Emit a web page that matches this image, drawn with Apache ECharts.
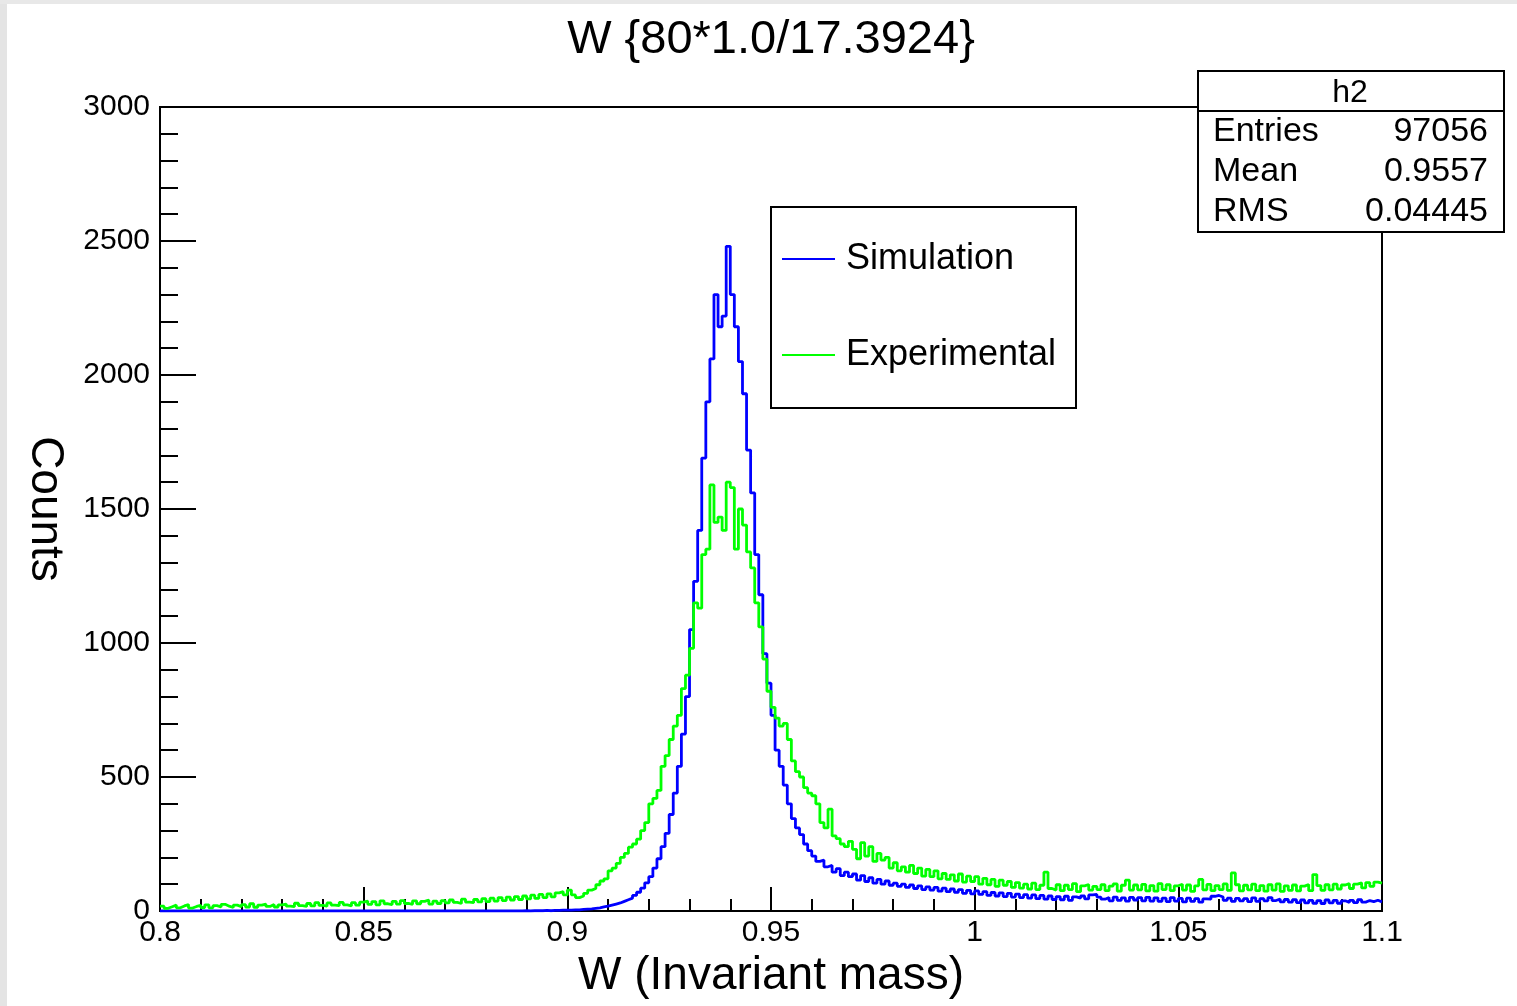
<!DOCTYPE html>
<html>
<head>
<meta charset="utf-8">
<title>W invariant mass</title>
<script src="https://cdn.jsdelivr.net/npm/echarts@6/dist/echarts.min.js"></script>
<style>
    html, body { margin: 0; padding: 0; background: #fff; }
    #main { width: 1517px; height: 1006px; }
</style>
</head>
<body>
<div id="main"></div>
<script>
// histogram bins: 0.8 -> 1.1, width 0.001
var binStart = 0.8;
var binWidth = 0.001;
var xTicks = ['0.8', '0.85', '0.9', '0.95', '1', '1.05', '1.1'];
var seriesNames = ['Simulation', 'Experimental'];

var simulation = [
    0, 0, 0, 0, 0, 0, 0, 0, 0, 0,
    0, 0, 0, 0, 0, 0, 0, 0, 0, 0,
    0, 0, 0, 0, 0, 0, 0, 0, 0, 0,
    0, 0, 0, 0, 0, 0, 0, 0, 0, 0,
    0, 0, 0, 0, 0, 0, 0, 0, 0, 0,
    0, 0, 0, 0, 0, 0, 0, 0, 0, 0,
    0, 0, 0, 0, 0, 0, 0, 0, 0, 0,
    0, 0, 0, 0, 0, 0, 0, 0, 0, 0,
    0, 0, 0, 0, 0, 0, 0, 0, 0, 1,
    0, 1, 1, 1, 2, 1, 2, 2, 3, 3,
    3, 4, 4, 6, 7, 8, 10, 12, 15, 18,
    22, 26, 30, 36, 42, 48, 58, 70, 85, 105,
    128, 160, 195, 240, 290, 360, 440, 540, 660, 800,
    1050, 1230, 1420, 1690, 1900, 2060, 2300, 2180, 2220, 2480,
    2300, 2180, 2050, 1930, 1720, 1560, 1330, 1180, 960, 850,
    730, 600, 540, 470, 400, 345, 310, 285, 250, 225,
    205, 185, 190, 165, 170, 145, 158, 132, 145, 128,
    138, 115, 132, 110, 124, 104, 118, 100, 112, 96,
    104, 92, 100, 88, 97, 84, 94, 80, 90, 78,
    88, 74, 85, 72, 82, 70, 80, 66, 77, 64,
    75, 62, 72, 58, 69, 56, 68, 54, 66, 52,
    63, 50, 61, 48, 60, 46, 58, 44, 56, 43,
    54, 42, 55, 40, 53, 48, 56, 45, 60, 62,
    52, 44, 50, 38, 52, 40, 49, 37, 51, 41,
    50, 38, 51, 37, 49, 36, 48, 35, 50, 37,
    47, 34, 48, 36, 46, 33, 45, 44, 55, 58,
    52, 40, 48, 36, 47, 38, 46, 35, 49, 36,
    46, 38, 50, 39, 45, 34, 43, 33, 42, 31,
    41, 30, 40, 29, 39, 28, 41, 30, 40, 29,
    38, 32, 40, 31, 42, 33, 39, 35, 40, 34
];

var experimental = [
    18, 10, 16, 22, 12, 19, 24, 11, 17, 21,
    13, 23, 12, 20, 15, 25, 18, 13, 22, 16,
    24, 15, 27, 14, 22, 26, 17, 24, 15, 23,
    26, 18, 16, 29, 20, 17, 28, 19, 31, 21,
    18, 30, 22, 20, 32, 23, 19, 31, 22, 33,
    37, 25, 35, 23, 38, 27, 24, 36, 26, 39,
    28, 25, 38, 27, 36, 41, 26, 37, 28, 39,
    30, 41, 32, 28, 44, 33, 31, 43, 34, 46,
    35, 48, 37, 50, 39, 52, 41, 54, 43, 56,
    45, 59, 47, 62, 50, 64, 53, 68, 72, 60,
    78, 60, 50, 56, 66, 78, 84, 98, 112, 120,
    150, 160, 178, 200, 215, 238, 250, 268, 300, 330,
    400, 420, 450, 540, 580, 640, 690, 730, 830, 880,
    980, 1150, 1130, 1330, 1350, 1590, 1450, 1470, 1420, 1600,
    1580, 1350, 1500, 1440, 1340, 1280, 1150, 1060, 940, 820,
    760, 720, 690, 700, 640, 560, 520, 500, 460, 440,
    430, 400, 330, 310, 380, 280, 270, 250, 240, 260,
    230, 195, 255, 205, 240, 185, 215, 190, 200, 160,
    180, 150, 165, 145, 170, 140, 160, 130, 155, 128,
    150, 120, 140, 118, 135, 112, 138, 108, 130, 110,
    128, 100, 122, 98, 118, 92, 115, 96, 110, 88,
    106, 85, 100, 82, 104, 80, 96, 145, 84, 78,
    98, 76, 96, 80, 102, 72, 94, 99, 78, 92,
    80, 98, 76, 93, 101, 74, 96, 115, 78, 97,
    79, 99, 75, 95, 74, 102, 80, 98, 76, 94,
    100, 78, 97, 73, 94, 118, 79, 99, 76, 95,
    80, 101, 77, 142, 98, 75, 96, 79, 100, 76,
    95, 74, 98, 78, 101, 73, 94, 77, 97, 75,
    93, 99, 76, 136, 95, 77, 98, 79, 100, 82,
    97, 102, 84, 100, 105, 86, 106, 92, 108, 104
];

var statsRows = [['Entries', '97056'], ['Mean', '0.9557'], ['RMS', '0.04445']];

var FONT = '"Liberation Sans", Arial, Helvetica, sans-serif';

// bin left edges -> step points, closing point at the upper edge
function toSteps(vals) {
    var pts = vals.map(function (v, i) {
        return [+(binStart + i * binWidth).toFixed(4), v];
    });
    pts.push([+(binStart + vals.length * binWidth).toFixed(4), vals[vals.length - 1]]);
    return pts;
}

var chart = echarts.init(document.getElementById('main'), null, { renderer: 'canvas' });

var statsGraphic = [
    { type: 'rect', shape: { x: 1198, y: 71, width: 306, height: 161 }, style: { fill: '#fff', stroke: '#000', lineWidth: 2 } },
    { type: 'line', shape: { x1: 1198, y1: 111, x2: 1504, y2: 111 }, style: { stroke: '#000', lineWidth: 2 } },
    { type: 'text', x: 1350, y: 93, style: { text: 'h2', font: '32px ' + FONT, fill: '#000', align: 'center', verticalAlign: 'middle' } }
];
statsRows.forEach(function (row, i) {
    var y = 132 + i * 40;
    statsGraphic.push({ type: 'text', x: 1213, y: y, style: { text: row[0], font: '34px ' + FONT, fill: '#000', align: 'left', verticalAlign: 'middle' } });
    statsGraphic.push({ type: 'text', x: 1488, y: y, style: { text: row[1], font: '34px ' + FONT, fill: '#000', align: 'right', verticalAlign: 'middle' } });
});

var legendGraphic = [
    { type: 'rect', shape: { x: 771, y: 207, width: 305, height: 201 }, style: { fill: '#fff', stroke: '#000', lineWidth: 2 } }
];
[['#0000ff', 259], ['#00ff00', 355]].forEach(function (it, i) {
    legendGraphic.push({ type: 'line', shape: { x1: 782, y1: it[1], x2: 835, y2: it[1] }, style: { stroke: it[0], lineWidth: 2 } });
    legendGraphic.push({ type: 'text', x: 846, y: it[1], style: { text: seriesNames[i], font: '36px ' + FONT, fill: '#000', align: 'left', verticalAlign: 'middle' } });
});

var option = {
    backgroundColor: '#fff',
    animation: false,
    textStyle: { fontFamily: FONT },
    grid: {
        left: 160, right: 135, top: 107, bottom: 95,
        show: true, borderColor: '#000', borderWidth: 2, backgroundColor: 'transparent'
    },
    xAxis: {
        type: 'value',
        min: 0.8, max: 1.1, interval: 0.05,
        name: 'W (Invariant mass)',
        nameLocation: 'middle',
        nameGap: 38,
        nameTextStyle: { fontSize: 46, color: '#000', fontFamily: FONT },
        axisLine: { show: true, onZero: false, lineStyle: { color: '#000', width: 2 } },
        axisTick: { show: true, inside: true, length: 24, lineStyle: { color: '#000', width: 2 } },
        minorTick: { show: true, splitNumber: 5, length: 12, lineStyle: { color: '#000', width: 2 } },
        splitLine: { show: false },
        axisLabel: {
            fontSize: 30, color: '#000', margin: 7, showMinLabel: true, showMaxLabel: true,
            formatter: function (v) {
                var k = Math.round((v - 0.8) / 0.05);
                return xTicks[k] !== undefined ? xTicks[k] : '';
            }
        }
    },
    yAxis: {
        type: 'value',
        min: 0, max: 3000, interval: 500,
        name: 'Counts',
        nameLocation: 'middle',
        nameRotate: -90,
        nameGap: 92,
        nameTextStyle: { fontSize: 46, color: '#000', fontFamily: FONT },
        axisLine: { show: true, lineStyle: { color: '#000', width: 2 } },
        axisTick: { show: true, inside: true, length: 36, lineStyle: { color: '#000', width: 2 } },
        minorTick: { show: true, splitNumber: 5, length: 18, lineStyle: { color: '#000', width: 2 } },
        splitLine: { show: false },
        axisLabel: {
            fontSize: 30, color: '#000', margin: 10,
            formatter: function (v) { return String(v); }
        }
    },
    series: [
        {
            name: seriesNames[0], type: 'line', step: 'end', showSymbol: false,
            data: toSteps(simulation),
            lineStyle: { color: '#0000ff', width: 2.8 }, itemStyle: { color: '#0000ff' }, z: 2
        },
        {
            name: seriesNames[1], type: 'line', step: 'end', showSymbol: false,
            data: toSteps(experimental),
            lineStyle: { color: '#00ff00', width: 2.8 }, itemStyle: { color: '#00ff00' }, z: 3
        }
    ],
    graphic: [
        { type: 'rect', shape: { x: 0, y: 0, width: 7, height: 1006 }, style: { fill: '#e4e4e4' }, z: 0 },
        { type: 'rect', shape: { x: 0, y: 0, width: 1517, height: 4 }, style: { fill: '#e8e8e8' }, z: 0 },
        { type: 'text', x: 771, y: 40, style: { text: 'W {80*1.0/17.3924}', font: '47px ' + FONT, fill: '#000', align: 'center', verticalAlign: 'middle' }, z: 10 },
        { type: 'group', z: 10, children: legendGraphic },
        { type: 'group', z: 10, children: statsGraphic }
    ]
};

chart.setOption(option);
window.onresize = chart.resize;
</script>
</body>
</html>
